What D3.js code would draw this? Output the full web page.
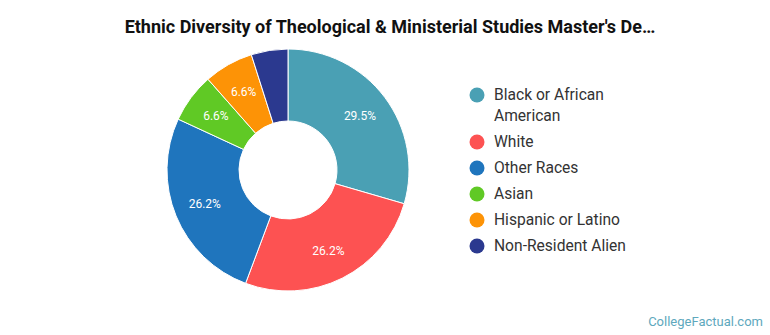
<!DOCTYPE html>
<html>
<head>
<meta charset="utf-8">
<script src="https://cdn.jsdelivr.net/npm/d3@7"></script>
<style>
  body { margin: 0; background: #fff; font-family: Roboto, "Noto Sans", sans-serif; }
</style>
</head>
<body>
<svg id="chart"></svg>
<script>
// ethnic breakdown, percent of degrees awarded
const categories = ["Black or African American", "White", "Other Races", "Asian", "Hispanic or Latino", "Non-Resident Alien"];
const shares = [29.5, 26.2, 26.2, 6.6, 6.6, 4.9];
const colors = ["#4aa0b4", "#fd5252", "#1f75bd", "#60c925", "#fd9306", "#2b398f"];
const legendLines = [["Black or African", "American"], ["White"], ["Other Races"], ["Asian"], ["Hispanic or Latino"], ["Non-Resident Alien"]];
const minLabelShare = 5;

const width = 770, height = 335;
const cx = 288, cy = 170, outerR = 121, innerR = 49, labelR = 90;

const svg = d3.select('#chart')
    .attr('width', width)
    .attr('height', height);

svg.append('text')
    .attr('x', 390)
    .attr('y', 33)
    .attr('text-anchor', 'middle')
    .style('font-size', '18px')
    .style('font-weight', 'bold')
    .style('fill', '#111')
    .text("Ethnic Diversity of Theological & Ministerial Studies Master's De\u2026");

const data = categories.map((c, i) => ({name: c, value: shares[i], color: colors[i]}));

const pie = d3.pie()
    .sort(null)
    .value(d => d.value);

const arc = d3.arc()
    .innerRadius(innerR)
    .outerRadius(outerR);

const labelArc = d3.arc()
    .innerRadius(labelR)
    .outerRadius(labelR);

const g = svg.append('g')
    .attr('transform', `translate(${cx},${cy})`);

const arcs = pie(data);

g.selectAll('.slice')
    .data(arcs)
  .join('path')
    .attr('class', 'slice')
    .attr('d', arc)
    .attr('fill', d => d.data.color)
    .attr('stroke', '#fff')
    .attr('stroke-width', 1);

g.selectAll('.pct')
    .data(arcs.filter(d => d.data.value >= minLabelShare))
  .join('text')
    .attr('class', 'pct')
    .attr('transform', d => `translate(${labelArc.centroid(d)})`)
    .attr('text-anchor', 'middle')
    .attr('dy', '0.35em')
    .style('font-size', '12px')
    .style('fill', '#fff')
    .text(d => d3.format('.1f')(d.data.value) + '%');

// legend
const legend = svg.append('g')
    .attr('transform', 'translate(477,95)');

let yPos = 0;
legendLines.forEach((lines, i) => {
  const item = legend.append('g').attr('transform', `translate(0,${yPos})`);
  item.append('circle')
      .attr('r', 7.5)
      .attr('fill', colors[i]);
  item.append('text')
      .attr('x', 17)
      .attr('dy', '0.35em')
      .style('font-size', '15.6px')
      .style('fill', '#333')
      .selectAll('tspan')
      .data(lines)
    .join('tspan')
      .attr('x', 17)
      .attr('dy', (d, j) => j === 0 ? '0.35em' : '21')
      .text(d => d);
  yPos += 26 + (lines.length - 1) * 21;
});

svg.append('text')
    .attr('x', 763)
    .attr('y', 326)
    .attr('text-anchor', 'end')
    .style('font-size', '13px')
    .style('fill', '#5ea8bd')
    .text('CollegeFactual.com');
</script>
</body>
</html>
